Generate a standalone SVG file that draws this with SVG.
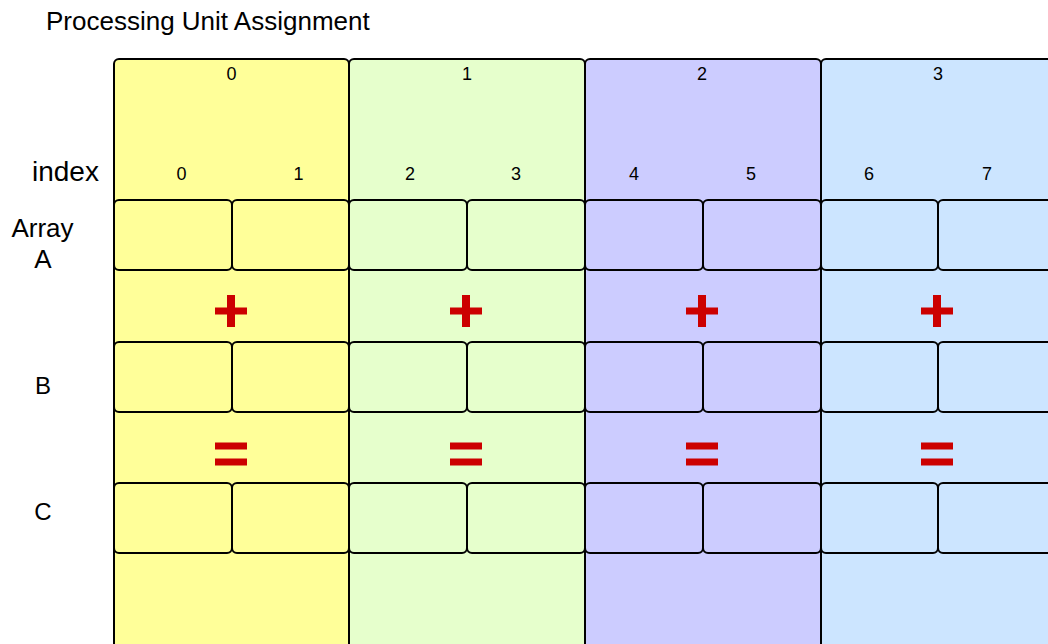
<svg xmlns="http://www.w3.org/2000/svg" width="1048" height="644" viewBox="0 0 1048 644">
<style>
.col{stroke:#000;stroke-width:2}
.cell{fill:none;stroke:#000;stroke-width:2}
.t{font-family:"Liberation Sans",Arial,sans-serif;fill:#000}
.n{font-size:18px;text-anchor:middle}
.op{fill:#CC0000}
</style>
<rect width="1048" height="644" fill="#fff"/>
<text class="t" x="46" y="30" font-size="26">Processing Unit Assignment</text>
<g class="t">
<text x="32" y="181" font-size="28">index</text>
<text x="42.5" y="237" font-size="26" text-anchor="middle">Array</text>
<text x="43" y="268" font-size="26" text-anchor="middle">A</text>
<text x="43" y="394" font-size="24" text-anchor="middle">B</text>
<text x="43" y="520" font-size="24" text-anchor="middle">C</text>
</g>
<g id="pu0">
<rect class="col" x="114" y="59" width="235" height="600" rx="5" fill="#FFFF99"/>
<text class="t n" x="231.5" y="80">0</text>
<text class="t n" x="181.5" y="179.5">0</text>
<text class="t n" x="298.5" y="179.5">1</text>
</g>
<g id="pu1">
<rect class="col" x="349" y="59" width="236" height="600" rx="5" fill="#E6FFCC"/>
<text class="t n" x="467" y="80">1</text>
<text class="t n" x="410" y="179.5">2</text>
<text class="t n" x="516" y="179.5">3</text>
</g>
<g id="pu2">
<rect class="col" x="585" y="59" width="236" height="600" rx="5" fill="#CCCCFF"/>
<text class="t n" x="702" y="80">2</text>
<text class="t n" x="634" y="179.5">4</text>
<text class="t n" x="751" y="179.5">5</text>
</g>
<g id="pu3">
<rect class="col" x="821" y="59" width="236" height="600" rx="5" fill="#CCE5FF"/>
<text class="t n" x="938" y="80">3</text>
<text class="t n" x="869" y="179.5">6</text>
<text class="t n" x="987" y="179.5">7</text>
</g>
<g id="cells">
<g id="rowA">
<rect class="cell" x="114" y="200" width="118" height="70" rx="5"/>
<rect class="cell" x="232" y="200" width="117" height="70" rx="5"/>
<rect class="cell" x="349" y="200" width="118" height="70" rx="5"/>
<rect class="cell" x="467" y="200" width="118" height="70" rx="5"/>
<rect class="cell" x="585" y="200" width="118" height="70" rx="5"/>
<rect class="cell" x="703" y="200" width="118" height="70" rx="5"/>
<rect class="cell" x="821" y="200" width="117" height="70" rx="5"/>
<rect class="cell" x="938" y="200" width="118" height="70" rx="5"/>
</g>
<g id="rowB">
<rect class="cell" x="114" y="342" width="118" height="70" rx="5"/>
<rect class="cell" x="232" y="342" width="117" height="70" rx="5"/>
<rect class="cell" x="349" y="342" width="118" height="70" rx="5"/>
<rect class="cell" x="467" y="342" width="118" height="70" rx="5"/>
<rect class="cell" x="585" y="342" width="118" height="70" rx="5"/>
<rect class="cell" x="703" y="342" width="118" height="70" rx="5"/>
<rect class="cell" x="821" y="342" width="117" height="70" rx="5"/>
<rect class="cell" x="938" y="342" width="118" height="70" rx="5"/>
</g>
<g id="rowC">
<rect class="cell" x="114" y="483" width="118" height="70" rx="5"/>
<rect class="cell" x="232" y="483" width="117" height="70" rx="5"/>
<rect class="cell" x="349" y="483" width="118" height="70" rx="5"/>
<rect class="cell" x="467" y="483" width="118" height="70" rx="5"/>
<rect class="cell" x="585" y="483" width="118" height="70" rx="5"/>
<rect class="cell" x="703" y="483" width="118" height="70" rx="5"/>
<rect class="cell" x="821" y="483" width="117" height="70" rx="5"/>
<rect class="cell" x="938" y="483" width="118" height="70" rx="5"/>
</g>
</g>
<defs>
<g id="plus"><rect class="op" x="-16" y="-3.5" width="32" height="7"/><rect class="op" x="-4" y="-16" width="8" height="32"/></g>
<g id="eq"><rect class="op" x="-16" y="-11.5" width="32" height="7"/><rect class="op" x="-16" y="4.5" width="32" height="7"/></g>
</defs>
<g id="ops">
<use href="#plus" x="231" y="311"/>
<use href="#plus" x="466" y="311"/>
<use href="#plus" x="702" y="311"/>
<use href="#plus" x="937" y="311"/>
<use href="#eq" x="231" y="454"/>
<use href="#eq" x="466" y="454"/>
<use href="#eq" x="702" y="454"/>
<use href="#eq" x="937" y="454"/>
</g>
</svg>
